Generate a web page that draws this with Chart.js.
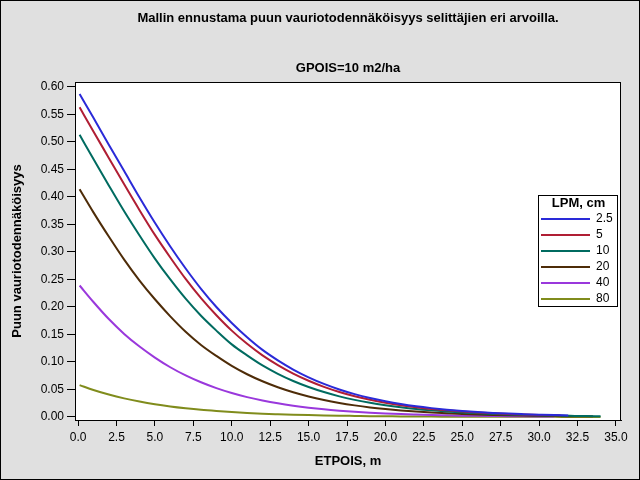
<!DOCTYPE html>
<html><head><meta charset="utf-8">
<script src="https://cdn.jsdelivr.net/npm/chart.js@4/dist/chart.umd.min.js"></script>
<style>html,body{margin:0;padding:0;background:#e0e0e0;}canvas{display:block;}</style>
</head><body>
<canvas id="c" width="640" height="480"></canvas>
<script>
const mainTitle = 'Mallin ennustama puun vauriotodennäköisyys selittäjien eri arvoilla.';
const subTitle = 'GPOIS=10 m2/ha';
const xTitle = 'ETPOIS, m';
const yTitle = 'Puun vauriotodennäköisyys';
const legendTitle = 'LPM, cm';
const lpmLabels = ['2.5', '5', '10', '20', '40', '80'];
const lpmColors = ['#2a2ad8', '#b01e34', '#006b60', '#4e2c08', '#9a38dc', '#808c1c'];
const xTicks = [0, 2.5, 5, 7.5, 10, 12.5, 15, 17.5, 20, 22.5, 25, 27.5, 30, 32.5, 35];
const yTicks = [0, 0.05, 0.10, 0.15, 0.20, 0.25, 0.30, 0.35, 0.40, 0.45, 0.50, 0.55, 0.60];
const etpois = [0.1, 1, 2, 3, 4, 5, 6, 7, 8, 9, 10, 11, 12, 13, 14, 15, 16, 17, 18, 19, 20,
  21, 22, 23, 24, 25, 26, 27, 28, 29, 30, 31, 32, 33, 34];
const p2_5 = [0.587,0.544,0.495,0.447,0.399,0.353,0.310,0.270,0.233,0.200,0.171,0.145,0.122,0.103,0.0863,0.0721,0.0601,0.0500,0.0415,0.0344,0.0285,0.0235,0.0194,0.0161,0.0133,0.0110,0.0090,0.0074,0.0061,0.0051,0.0042,0.0034];
const p5 = [0.563,0.519,0.471,0.423,0.376,0.331,0.290,0.251,0.216,0.185,0.157,0.133,0.112,0.0943,0.0789,0.0659,0.0548,0.0455,0.0378,0.0313,0.0259,0.0214,0.0177,0.0146,0.0121,0.0099,0.0082,0.0068,0.0056,0.0046,0.0038,0.0031];
const p10 = [0.513,0.469,0.421,0.374,0.330,0.288,0.250,0.215,0.184,0.157,0.132,0.112,0.0937,0.0784,0.0654,0.0545,0.0453,0.0375,0.0311,0.0257,0.0213,0.0176,0.0145,0.0120,0.0099,0.0081,0.0067,0.0055,0.0045,0.0037,0.0031,0.0025,0.0021,0.0017,0.0014];
const p20 = [0.414,0.372,0.328,0.286,0.248,0.214,0.183,0.155,0.131,0.111,0.0929,0.0777,0.0649,0.0540,0.0449,0.0372,0.0308,0.0255,0.0211,0.0174,0.0144,0.0119,0.0098,0.0081,0.0067,0.0055,0.0045,0.0037,0.0030,0.0025,0.0021,0.0017,0.0014,0.0012];
const p40 = [0.239,0.209,0.178,0.151,0.128,0.108,0.0904,0.0756,0.0631,0.0525,0.0436,0.0361,0.0300,0.0248,0.0205,0.0169,0.0139,0.0115,0.0095,0.0079,0.0065,0.0053,0.0044,0.0036,0.0030,0.0024,0.0020,0.0017,0.0014,0.0011,0.0009,0.0008];
const p80 = [0.058,0.0491,0.0408,0.0338,0.0280,0.0231,0.0191,0.0158,0.0130,0.0108,0.0089,0.0073,0.0060,0.0050,0.0041,0.0034,0.0028,0.0023,0.0019,0.0015,0.0013,0.0010,0.0009,0.0007,0.0006,0.0005,0.0004,0.0003,0.0003,0.0002,0.0002,0.0002,0.0001,0.0001,0.0001];
// last observed point of each series (ETPOIS, probability); null = ends on grid
const endX = [31.9, 31.4, null, 33.5, null, null];
const endY = [0.0029, 0.0029, null, 0.0011, null, null];
const seriesValues = [p2_5, p5, p10, p20, p40, p80];

const datasets = seriesValues.map((vals, i) => {
  const pts = vals.map((v, k) => ({x: etpois[k], y: v}));
  if (endX[i] !== null) pts.push({x: endX[i], y: endY[i]});
  return {
    label: lpmLabels[i], data: pts, borderColor: lpmColors[i], backgroundColor: lpmColors[i],
    borderWidth: 2, pointRadius: 0, fill: false, cubicInterpolationMode: 'monotone'
  };
});

const FONT = '"Liberation Sans", Arial, sans-serif';

const decor = {
  id: 'decor',
  beforeDraw(chart) {
    const c = chart.ctx, a = chart.chartArea;
    c.save();
    c.fillStyle = '#e0e0e0';
    c.fillRect(0, 0, chart.width, chart.height);
    c.fillStyle = '#ffffff';
    c.fillRect(a.left, a.top, a.right - a.left, a.bottom - a.top);
    c.restore();
  },
  afterDraw(chart) {
    const c = chart.ctx, a = chart.chartArea;
    c.save();
    // frame around plot
    c.strokeStyle = '#000'; c.lineWidth = 1;
    c.strokeRect(Math.round(a.left) + 0.5, Math.round(a.top) + 0.5, Math.round(a.right - a.left) - 1, Math.round(a.bottom - a.top));
    // outer border
    c.strokeRect(0.5, 0.5, chart.width - 1, chart.height - 1);
    // titles
    const cx = (a.left + a.right) / 2;
    c.fillStyle = '#000';
    c.textAlign = 'center'; c.textBaseline = 'middle';
    c.font = 'bold 13px ' + FONT;
    c.fillText(mainTitle, cx, 18);
    c.fillText(subTitle, cx, 68);
    // legend
    const lx = 538, ly = 195, lw = 79, lh = 111;
    c.fillStyle = '#fff';
    c.fillRect(lx, ly, lw, lh);
    c.strokeRect(lx + 0.5, ly + 0.5, lw, lh);
    c.fillStyle = '#000';
    c.font = 'bold 13px ' + FONT;
    c.fillText(legendTitle, lx + lw / 2 + 1, 203);
    c.font = '12px ' + FONT;
    c.textAlign = 'left';
    chart.data.datasets.forEach((ds, i) => {
      const yy = 218.5 + 16 * i;
      c.strokeStyle = ds.borderColor; c.lineWidth = 2;
      c.beginPath(); c.moveTo(541, Math.round(yy)); c.lineTo(590, Math.round(yy)); c.stroke();
      c.fillStyle = '#000';
      c.fillText(ds.label, 596, yy);
    });
    c.restore();
  }
};

new Chart(document.getElementById('c'), {
  type: 'line',
  data: { datasets },
  options: {
    responsive: false, animation: false, devicePixelRatio: 1,
    layout: { padding: { top: 82, right: 19, left: 0, bottom: 0 } },
    plugins: { legend: { display: false }, tooltip: { enabled: false }, title: { display: false } },
    scales: {
      x: {
        type: 'linear', min: -0.2, max: 35.33,
        afterBuildTicks: s => { s.ticks = xTicks.map(v => ({value: v})); },
        afterFit: s => { s.height = 60; },
        ticks: { callback: v => Number(v).toFixed(1), font: { family: FONT, size: 12 }, color: '#000', padding: 4, maxRotation: 0, autoSkip: false },
        grid: { drawOnChartArea: false, drawTicks: true, tickLength: 6, color: '#000', lineWidth: 1 },
        border: { display: true, color: '#000', width: 1 },
        title: { display: true, text: xTitle, font: { family: FONT, size: 13, weight: 'bold' }, color: '#000', padding: { top: 0, bottom: 11 } }
      },
      y: {
        type: 'linear', min: -0.0055, max: 0.609,
        afterBuildTicks: s => { s.ticks = yTicks.map(v => ({value: v})); },
        afterFit: s => { s.width = 75; },
        ticks: { callback: v => Number(v).toFixed(2), font: { family: FONT, size: 12 }, color: '#000', padding: 3, autoSkip: false },
        grid: { drawOnChartArea: false, drawTicks: true, tickLength: 8, color: '#000', lineWidth: 1 },
        border: { display: true, color: '#000', width: 1 },
        title: { display: true, text: yTitle, font: { family: FONT, size: 13, weight: 'bold' }, color: '#000', padding: { top: 10, bottom: 0 } }
      }
    }
  },
  plugins: [decor]
});
</script>
</body></html>
